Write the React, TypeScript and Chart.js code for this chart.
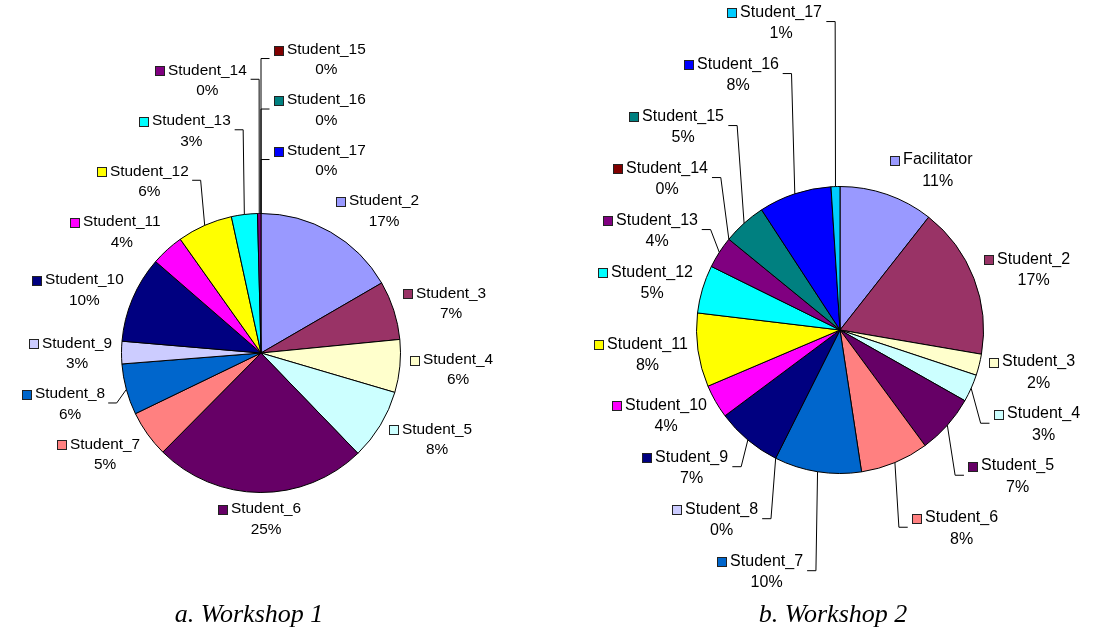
import React, { useEffect, useRef } from "react";
import { Chart, registerables } from "chart.js";

Chart.register(...registerables);

// ---- data ----
const SLICE_COLORS = [
  "#9999FF", "#993366", "#FFFFCC", "#CCFFFF", "#660066", "#FF8080",
  "#0066CC", "#CCCCFF", "#000080", "#FF00FF", "#FFFF00", "#00FFFF",
  "#800080", "#800000", "#008080", "#0000FF", "#00CCFF",
];

const W1_CATEGORIES = [
  "Student_2", "Student_3", "Student_4", "Student_5", "Student_6", "Student_7",
  "Student_8", "Student_9", "Student_10", "Student_11", "Student_12", "Student_13",
  "Student_14", "Student_15", "Student_16", "Student_17",
];
const W1_VALUES = [16.6, 6.8, 6.1, 8.2, 24.6, 5.4, 5.9, 2.6, 10.0, 3.8, 6.4, 3.0, 0.4, 0, 0, 0];

const W2_CATEGORIES = [
  "Facilitator", "Student_2", "Student_3", "Student_4", "Student_5", "Student_6",
  "Student_7", "Student_8", "Student_9", "Student_10", "Student_11", "Student_12",
  "Student_13", "Student_14", "Student_15", "Student_16", "Student_17",
];
const W2_VALUES = [10.6, 17.1, 2.4, 3.1, 6.7, 7.7, 9.8, 0, 7.4, 3.8, 8.3, 5.4, 3.6, 0, 4.9, 8.2, 1.0];

const CAPTIONS = ["a. Workshop 1", "b. Workshop 2"];

// ---- layout ----
const PANELS = [
  { left: 0, width: 548, pad: { left: 0, right: 26, top: 75, bottom: 0 }, radius: 139.5, fontSize: 15.4, rowGap: 50.5, capLeft: 0, capWidth: 498 },
  { left: 548, width: 548, pad: { left: 36, right: 0, top: 29, bottom: 0 }, radius: 143.5, fontSize: 16, rowGap: 52, capLeft: 570, capWidth: 526 },
];
const HEIGHT = 631;
const TAU = Math.PI * 2;

function calloutPlugin(fontSize: number, rowGap: number) {
  return {
    id: "callouts",
    afterDatasetsDraw(chart: any) {
      const ctx: CanvasRenderingContext2D = chart.ctx;
      const meta = chart.getDatasetMeta(0);
      const ds = chart.data.datasets[0];
      const values: number[] = ds.data;
      const names: string[] = chart.data.labels;
      const colors: string[] = ds.backgroundColor;
      const total = values.reduce((a, b) => a + b, 0);
      const k = fontSize / 15.4;
      const box = 9.5 * k, boxGap = 3 * k, line = 10.25 * k, halfH = 20.5 * k;
      const padX = 10 * k, padY = 5 * k, threshold = 5.3 * k;
      const capH = 0.716 * fontSize;
      ctx.save();
      ctx.font = `${fontSize}px "Liberation Sans", Arial, sans-serif`;
      const items = meta.data.map((arc: any, i: number) => {
        const mid = (arc.startAngle + arc.endAngle) / 2;
        let th = (mid + Math.PI / 2) % TAU;
        if (th < 0) th += TAU;
        if (th > TAU - 1e-6) th = 0;
        const s = Math.sin(th), c = Math.cos(th);
        const ex = arc.x + arc.outerRadius * s;
        const ey = arc.y - arc.outerRadius * c;
        const nameW = ctx.measureText(names[i]).width;
        const w = box + boxGap + nameW;
        const sx = Math.sign(s) * Math.min(1, 3 * Math.abs(s));
        return {
          i, th, s, c, ex, ey, w, nameW,
          side: th < Math.PI ? 1 : -1,
          cx: ex + sx * (w / 2) + s * padX,
          cy: ey - c * (halfH + padY),
          pushed: false,
        };
      });

      const place = (it: any, y: number) => {
        if (Math.abs(y - it.cy) > threshold) {
          it.pushed = true;
          const g = (12.5 + 10 * Math.abs(it.s)) * k;
          it.cx = it.ex + it.side * (g + it.w / 2);
        }
        it.cy = y;
      };

      for (const side of [1, -1]) {
        const arr = items.filter((it: any) => it.side === side)
          .sort((a: any, b: any) => a.th - b.th || a.i - b.i);
        if (!arr.length) continue;
        const target = side === 1 ? Math.PI / 2 : (3 * Math.PI) / 2;
        let a = 0;
        arr.forEach((it: any, j: number) => {
          if (Math.abs(it.th - target) < Math.abs(arr[a].th - target)) a = j;
        });
        for (let j = a + 1; j < arr.length; j++) {
          const lim = arr[j - 1].cy + side * rowGap;
          if (side === 1 ? arr[j].cy < lim : arr[j].cy > lim) place(arr[j], lim);
        }
        for (let j = a - 1; j >= 0; j--) {
          const lim = arr[j + 1].cy - side * rowGap;
          if (side === 1 ? arr[j].cy > lim : arr[j].cy < lim) place(arr[j], lim);
        }
      }

      ctx.lineWidth = 1;
      for (const it of items) {
        if (it.pushed) {
          const bx = it.ex + it.side * 10 * Math.abs(it.s) * k;
          const endX = bx + it.side * 8.5 * k;
          ctx.strokeStyle = "#000";
          ctx.beginPath();
          ctx.moveTo(it.ex, it.ey);
          ctx.lineTo(bx, it.cy);
          ctx.lineTo(endX, it.cy);
          ctx.stroke();
        }
        const left = Math.round(it.cx - it.w / 2);
        const nameY = it.cy - line;
        const my = Math.round(nameY + 2 * k - box / 2);
        const bs = Math.round(box);
        ctx.fillStyle = colors[it.i];
        ctx.fillRect(left, my, bs, bs);
        ctx.strokeStyle = "#222";
        ctx.strokeRect(left + 0.5, my + 0.5, bs - 1, bs - 1);
        ctx.fillStyle = "#000";
        ctx.textBaseline = "alphabetic";
        ctx.textAlign = "left";
        const tx = left + bs + boxGap;
        ctx.fillText(names[it.i], tx, nameY + capH / 2);
        ctx.textAlign = "center";
        const pct = Math.round((values[it.i] / total) * 100) + "%";
        ctx.fillText(pct, tx + it.nameW / 2, it.cy + line + capH / 2);
      }
      ctx.restore();
    },
  };
}

function makePie(canvas: HTMLCanvasElement, panel: any, categories: string[], values: number[]) {
  return new Chart(canvas, {
    type: "pie",
    data: {
      labels: categories,
      datasets: [
        {
          data: values,
          backgroundColor: SLICE_COLORS.slice(0, values.length),
          borderColor: "#000",
          borderWidth: 1,
          radius: panel.radius,
        } as any,
      ],
    },
    options: {
      responsive: false,
      animation: false,
      events: [],
      layout: { padding: panel.pad },
      plugins: { legend: { display: false }, tooltip: { enabled: false } },
    },
    plugins: [calloutPlugin(panel.fontSize, panel.rowGap)],
  });
}

export default function App() {
  const ref1 = useRef<HTMLCanvasElement>(null);
  const ref2 = useRef<HTMLCanvasElement>(null);

  useEffect(() => {
    const c1 = makePie(ref1.current!, PANELS[0], W1_CATEGORIES, W1_VALUES);
    const c2 = makePie(ref2.current!, PANELS[1], W2_CATEGORIES, W2_VALUES);
    return () => {
      c1.destroy();
      c2.destroy();
    };
  }, []);

  const capStyle = (p: any): React.CSSProperties => ({
    position: "absolute",
    left: p.capLeft,
    width: p.capWidth,
    top: 601,
    textAlign: "center",
    font: 'italic 26px "Liberation Serif", "Times New Roman", serif',
    lineHeight: "26px",
    color: "#000",
    whiteSpace: "nowrap",
  });

  return (
    <div style={{ position: "fixed", left: 0, top: 0, width: 1096, height: HEIGHT, background: "#fff", overflow: "hidden" }}>
      <canvas ref={ref1} width={PANELS[0].width} height={HEIGHT}
        style={{ position: "absolute", left: PANELS[0].left, top: 0, width: PANELS[0].width, height: HEIGHT }} />
      <canvas ref={ref2} width={PANELS[1].width} height={HEIGHT}
        style={{ position: "absolute", left: PANELS[1].left, top: 0, width: PANELS[1].width, height: HEIGHT }} />
      <div style={capStyle(PANELS[0])}>{CAPTIONS[0]}</div>
      <div style={capStyle(PANELS[1])}>{CAPTIONS[1]}</div>
    </div>
  );
}
